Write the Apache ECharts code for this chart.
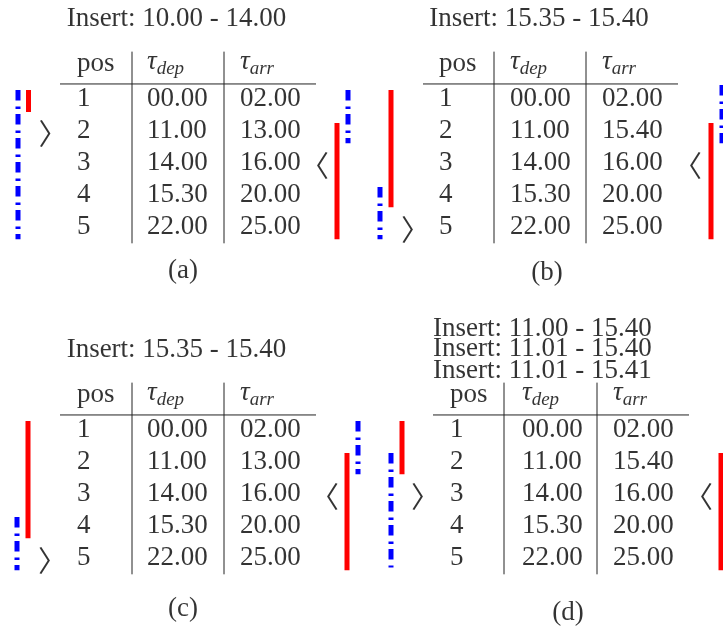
<!DOCTYPE html>
<html>
<head>
<meta charset="utf-8">
<script src="https://cdn.jsdelivr.net/npm/echarts@6/dist/echarts.min.js"></script>
<style>
  html, body { margin: 0; padding: 0; background: #fff; }
  #chart { width: 723px; height: 633px; }
</style>
</head>
<body>
<div id="chart"></div>
<script>
// table contents
const posList = ['1', '2', '3', '4', '5'];
const depTimes = ['00.00', '11.00', '14.00', '15.30', '22.00'];
const arrTimesA = ['02.00', '13.00', '16.00', '20.00', '25.00'];
const arrTimesB = ['02.00', '15.40', '16.00', '20.00', '25.00'];
const insertA = ['Insert: 10.00 - 14.00'];
const insertB = ['Insert: 15.35 - 15.40'];
const insertC = ['Insert: 15.35 - 15.40'];
const insertD = ['Insert: 11.00 - 15.40', 'Insert: 11.01 - 15.40', 'Insert: 11.01 - 15.41'];
const captions = ['(a)', '(b)', '(c)', '(d)'];

// interval bars next to the tables, in row units (row 1 .. row 5)
const leftBlue = [[0.72, 5.38], [3.75, 5.38], [3.72, 5.38], [1.72, 5.3]];
const leftRed = [[0.72, 1.41], [0.72, 4.38], [0.72, 4.38], [0.72, 2.38]];
const rightRed = [[1.75, 5.38], [1.75, 5.38], [1.72, 5.38], [1.72, 5.38]];
const rightBlue = [[0.72, 2.38], [0.56, 2.38], [0.72, 2.38], null];
// rows the > and < point at
const leftMark = [2, 5, 5, 3];
const rightMark = [3, 3, 3, 3];

const SERIF = 'Liberation Serif';
const RED = '#ff0000';
const BLUE = '#0000ff';

// where each panel sits
const layout = [
  { left: 0, width: 360, top: 3, yMin: -2, yMax: 7, rule: [60, 316], vl: [132, 224], cols: [77, 147, 240],
    titleX: 176.5, titleAlign: 'center', titleR: [-1.5], capX: 183, capR: 6.37, bx: [18, 28.5, 44.5, 322, 337, 348] },
  { left: 360, width: 363, top: 3, yMin: -2, yMax: 7, rule: [63, 318], vl: [134, 226], cols: [79, 150, 242],
    titleX: 179, titleAlign: 'center', titleR: [-1.5], capX: 187, capR: 6.44, bx: [20, 31, 47, 335, 351, 362] },
  { left: 0, width: 360, top: 302, yMin: -3, yMax: 7, rule: [60, 316], vl: [132, 224], cols: [77, 147, 240],
    titleX: 176.5, titleAlign: 'center', titleR: [-1.5], capX: 183, capR: 6.59, bx: [17, 28, 44, 332, 347, 358] },
  { left: 360, width: 363, top: 302, yMin: -3, yMax: 7, rule: [73, 329], vl: [144, 237], cols: [90, 162, 253],
    titleX: 73, titleAlign: 'left', titleR: [-2.17, -1.52, -0.86], capX: 208, capR: 6.72, bx: [31, 42, 57, 346, 361, null] }
];
const titles = [insertA, insertB, insertC, insertD];
const arrCols = [arrTimesA, arrTimesB, arrTimesA, arrTimesB];

const rich = {
  t: { fontFamily: SERIF, fontSize: 27, fontStyle: 'italic', color: '#000', padding: [0, 0, 3, 0], verticalAlign: 'bottom' },
  s: { fontFamily: SERIF, fontSize: 19, fontStyle: 'italic', color: '#000', verticalAlign: 'bottom' }
};

function texts(i, items, align, extra) {
  return {
    type: 'scatter', xAxisIndex: i, yAxisIndex: i, symbolSize: 1, silent: true, animation: false, z: 5,
    itemStyle: { color: 'transparent' },
    data: items.map(function (it) { return { value: [it[0], it[1]], label: { formatter: it[2] } }; }),
    label: Object.assign({
      show: true, position: 'inside', align: align, verticalAlign: 'middle',
      color: '#000', fontFamily: SERIF, fontSize: 27, rich: rich
    }, extra || {})
  };
}

function seg(i, pts, color, width, type) {
  return {
    type: 'line', xAxisIndex: i, yAxisIndex: i, data: pts, symbol: 'none', silent: true, animation: false,
    lineStyle: { color: color, width: width, type: type, cap: 'butt' }, z: 3
  };
}

const DASHDOT = [10.5, 6, 2.5, 5];
const grid = [], xAxis = [], yAxis = [], series = [];

layout.forEach(function (p, i) {
  grid.push({ left: p.left, width: p.width, top: p.top, height: (p.yMax - p.yMin) * 32 });
  xAxis.push({ type: 'value', gridIndex: i, min: 0, max: p.width, show: false });
  yAxis.push({ type: 'value', gridIndex: i, min: p.yMin, max: p.yMax, inverse: true, show: false });

  // title lines and caption
  series.push(texts(i, titles[i].map(function (t, k) { return [p.titleX, p.titleR[k], t]; }), p.titleAlign));
  series.push(texts(i, [[p.capX, p.capR, captions[i]]], 'center'));

  // header
  series.push(texts(i, [
    [p.cols[0], -0.1, 'pos'],
    [p.cols[1], -0.1, '{t|τ}{s|dep}'],
    [p.cols[2], -0.1, '{t|τ}{s|arr}']
  ], 'left'));

  // body cells
  const cells = [];
  posList.forEach(function (v, r) {
    cells.push([p.cols[0], r + 1, v]);
    cells.push([p.cols[1], r + 1, depTimes[r]]);
    cells.push([p.cols[2], r + 1, arrCols[i][r]]);
  });
  series.push(texts(i, cells, 'left'));

  // table rules
  series.push(seg(i, [[p.rule[0], 0.53], [p.rule[1], 0.53]], '#222', 1, 'solid'));
  series.push(seg(i, [[p.vl[0], -0.48], [p.vl[0], 5.51]], '#222', 1, 'solid'));
  series.push(seg(i, [[p.vl[1], -0.48], [p.vl[1], 5.51]], '#222', 1, 'solid'));

  // interval bars
  series.push(seg(i, [[p.bx[0], leftBlue[i][0]], [p.bx[0], leftBlue[i][1]]], BLUE, 5, DASHDOT));
  series.push(seg(i, [[p.bx[1], leftRed[i][0]], [p.bx[1], leftRed[i][1]]], RED, 5, 'solid'));
  series.push(seg(i, [[p.bx[4], rightRed[i][0]], [p.bx[4], rightRed[i][1]]], RED, 5, 'solid'));
  if (rightBlue[i]) {
    series.push(seg(i, [[p.bx[5], rightBlue[i][0]], [p.bx[5], rightBlue[i][1]]], BLUE, 5, DASHDOT));
  }

  // insertion markers (CJK angle brackets sit on one side of their em box)
  series.push(texts(i, [[p.bx[2] - 6, leftMark[i] + 0.08, '〉']], 'left',
    { fontFamily: 'Noto Sans CJK JP', fontSize: 29, fontWeight: 'normal' }));
  series.push(texts(i, [[p.bx[3] + 7, rightMark[i] + 0.08, '〈']], 'right',
    { fontFamily: 'Noto Sans CJK JP', fontSize: 29, fontWeight: 'normal' }));
});

const chart = echarts.init(document.getElementById('chart'), null, { renderer: 'canvas' });
chart.setOption({
  animation: false,
  backgroundColor: '#fff',
  grid: grid,
  xAxis: xAxis,
  yAxis: yAxis,
  series: series
});
</script>
</body>
</html>
